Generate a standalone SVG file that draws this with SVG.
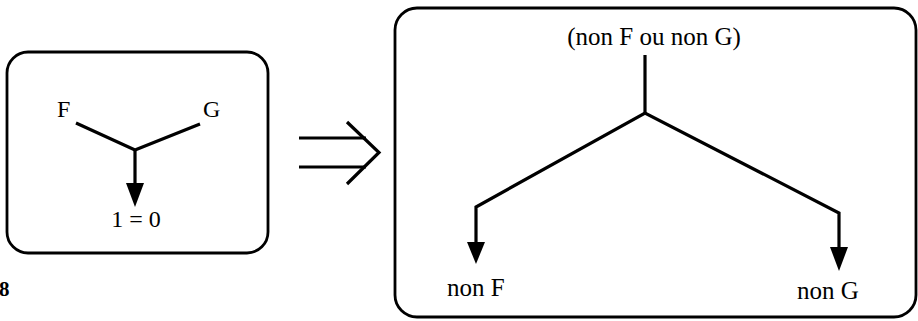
<svg xmlns="http://www.w3.org/2000/svg" width="918" height="321" viewBox="0 0 918 321">
<defs>
<style>
.box{fill:none;stroke:#000;stroke-width:2.8}
.ln{fill:none;stroke:#000;stroke-width:3.2;stroke-linejoin:miter}
.lbl{font-family:"Liberation Serif","Times New Roman",serif;font-size:24px;fill:#000}
.big{font-size:25px}
.head{fill:#000;stroke:none}
</style>
</defs>
<rect width="918" height="321" fill="#fff"/>
<g id="left-box">
<rect class="box" x="7" y="52" width="261" height="201" rx="21" ry="21"/>
</g>
<g id="node-F"><text class="lbl" x="57" y="117">F</text></g>
<g id="node-G"><text class="lbl" x="203" y="117">G</text></g>
<g id="node-contradiction"><text class="lbl" x="136" y="227" text-anchor="middle">1 = 0</text></g>
<g id="implies">
<line class="ln" x1="299" y1="138" x2="366" y2="138"/>
<line class="ln" x1="299" y1="167" x2="366" y2="167"/>
<polyline class="ln" points="347,122 379,152.5 347,184"/>
</g>
<g id="right-box">
<rect class="box" x="395" y="8" width="521" height="309" rx="22" ry="22"/>
</g>
<g id="node-or"><text class="lbl big" x="654" y="45" text-anchor="middle">(non F ou non G)</text></g>
<g id="node-nonF"><text class="lbl big" x="447" y="296">non F</text></g>
<g id="node-nonG"><text class="lbl big" x="797" y="299">non G</text></g>
<g id="label-8"><text x="-1" y="296" font-family="Liberation Serif, serif" font-weight="bold" font-size="21">8</text></g>
<g id="connectors">
<polyline class="ln" points="76,123 135,150 200,124"/>
<line class="ln" x1="135" y1="150" x2="135" y2="186"/>
<polygon class="head" points="126,183 144,183 135,207"/>
<line class="ln" x1="645" y1="55" x2="645" y2="113"/>
<polyline class="ln" points="476,244 476,207 645,113 839,213 839,249"/>
<polygon class="head" points="467,242 485,242 476,264"/>
<polygon class="head" points="830,247 848,247 839,271"/>
</g>
</svg>
